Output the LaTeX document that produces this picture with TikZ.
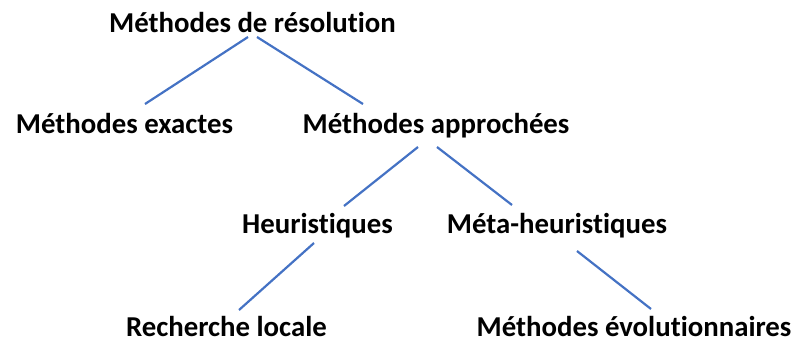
\documentclass[tikz,border=0pt]{standalone}
\usepackage{fontspec}
\setmainfont[Ligatures=NoCommon]{Carlito}
\begin{document}
\begin{tikzpicture}[x=1pt,y=-1pt,
  label/.style={anchor=base,inner sep=0pt,font=\fontsize{28.8}{32}\selectfont\bfseries},
  branch/.style={draw=linkblue,line width=2.2pt}]
\definecolor{linkblue}{HTML}{4472C4}
\useasboundingbox (0,0) rectangle (804,341);

% tree labels
\node[label] (root)   at (252.5,32)  {Méthodes de résolution};
\node[label] (exact)  at (124.5,133) {Méthodes exactes};
\node[label] (approx) at (436,133)   {Méthodes approchées};
\node[label] (heur)   at (317.5,233) {Heuristiques};
\node[label] (meta)   at (557,233)   {Méta-heuristiques};
\node[label] (local)  at (226.5,336) {Recherche locale};
\node[label] (evol)   at (634,336)   {Méthodes évolutionnaires};

% branches
\draw[branch] ([xshift=-4.5pt,yshift=-5pt]root.base) -- ([xshift=20.5pt,yshift=29pt]exact.base);
\draw[branch] ([xshift=4.5pt,yshift=-5pt]root.base) -- ([xshift=-73pt,yshift=29pt]approx.base);
\draw[branch] ([xshift=-18pt,yshift=-14pt]approx.base) -- ([xshift=26.5pt,yshift=27pt]heur.base);
\draw[branch] ([xshift=1pt,yshift=-14pt]approx.base) -- ([xshift=-45pt,yshift=28pt]meta.base);
\draw[branch] ([xshift=-3.5pt,yshift=-10pt]heur.base) -- ([xshift=12.5pt,yshift=26pt]local.base);
\draw[branch] ([xshift=20pt,yshift=-18pt]meta.base) -- ([xshift=17pt,yshift=27pt]evol.base);
\end{tikzpicture}
\end{document}
